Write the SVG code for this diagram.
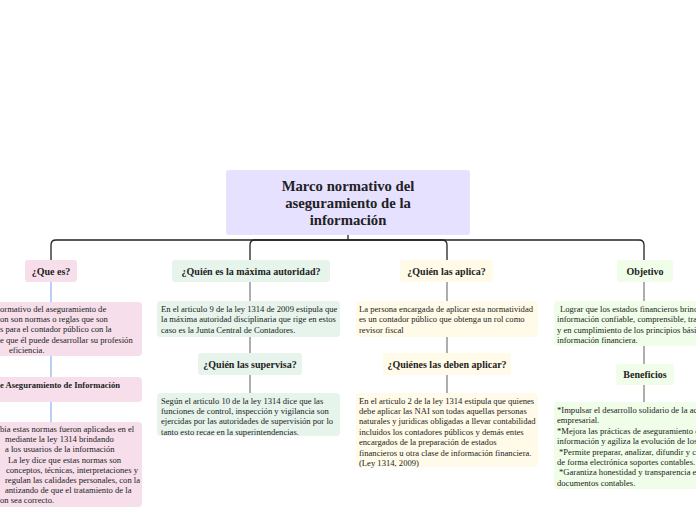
<svg xmlns="http://www.w3.org/2000/svg" width="696" height="520" viewBox="0 0 696 520">
<style>
.bg{fill:#ffffff}
.t{font-family:"Liberation Serif","Times New Roman",serif;font-size:8.6px;fill:#222}
.tb{font-family:"Liberation Serif","Times New Roman",serif;font-size:8.6px;font-weight:bold;fill:#222}
.h{font-family:"Liberation Serif","Times New Roman",serif;font-size:10px;font-weight:bold;fill:#222;text-anchor:middle}
.root{font-family:"Liberation Serif","Times New Roman",serif;font-size:14.7px;font-weight:bold;fill:#222;text-anchor:middle}
.main{fill:none;stroke:#222;stroke-width:1.3}
.sub{fill:none;stroke:#9a9a9a;stroke-width:1.6}
.blue{fill:none;stroke:#a8c4f4;stroke-width:1.6}
.pink{fill:#f6dfea}
.green{fill:#e6f4ec}
.cream{fill:#fffbe8}
.lgreen{fill:#f0fde8}
</style>
<rect class="bg" x="0" y="0" width="696" height="520"/>
<g id="connectors">
<path class="main" d="M348,235 V240"/>
<path class="main" d="M348,240 H56 Q51,240 51,245 V260"/>
<path class="main" d="M348,240 H255 Q250,240 250,245 V260"/>
<path class="main" d="M348,240 H442 Q447,240 447,245 V260"/>
<path class="main" d="M348,240 H639 Q644,240 644,245 V260"/>
<path class="blue" d="M51,282 V302 M51,356 V377 M51,402 V422"/>
<path class="sub" d="M250,282 V301 M250,337 V353 M250,375 V393"/>
<path class="sub" d="M447,282 V301 M447,337 V353 M447,375 V393"/>
<path class="sub" d="M644,282 V301 M644,346 V364 M644,385 V402"/>
</g>
<g id="root">
<rect x="226" y="170" width="244" height="65" rx="3" fill="#e5e1ff"/>
<text class="root" x="348" y="191">Marco normativo del</text>
<text class="root" x="348" y="208">aseguramiento de la</text>
<text class="root" x="348" y="225">información</text>
</g>
<g id="que-es">
<rect class="pink" x="25" y="260" width="52" height="22" rx="3"/>
<text class="h" x="51" y="274.5">¿Que es?</text>
</g>
<g id="que-es-def">
<rect class="pink" x="-60" y="302" width="202" height="54" rx="4"/>
<text class="t" x="0" y="311.5">ormativo del aseguramiento de</text>
<text class="t" x="0" y="322">on son normas o reglas que son</text>
<text class="t" x="0" y="332.4">s para el contador público con la</text>
<text class="t" x="0" y="342.8">e que él puede desarrollar su profesión</text>
<text class="t" x="9" y="353.2">eficiencia.</text>
</g>
<g id="aseguramiento">
<rect class="pink" x="-60" y="377" width="202" height="25" rx="4"/>
<text class="tb" x="0" y="388">e Aseguramiento de Información</text>
</g>
<g id="ley-1314">
<rect class="pink" x="-60" y="422" width="202" height="85" rx="4"/>
<text class="t" x="0" y="432">bia estas normas fueron aplicadas en el</text>
<text class="t" x="5" y="442.2">mediante la ley 1314 brindando</text>
<text class="t" x="5" y="452.4">a los usuarios de la información</text>
<text class="t" x="8" y="462.6">La ley dice que estas normas son</text>
<text class="t" x="6" y="472.8">conceptos, técnicas, interpretaciones y</text>
<text class="t" x="5" y="483">regulan las calidades personales, con la</text>
<text class="t" x="5" y="493.2">antizando de que el tratamiento de la</text>
<text class="t" x="0" y="503.4">on sea correcto.</text>
</g>
<g id="maxima-autoridad">
<rect class="green" x="172" y="260" width="158" height="22" rx="3"/>
<text class="h" x="251" y="274.5">¿Quién es la máxima autoridad?</text>
</g>
<g id="junta-central">
<rect class="green" x="157" y="301" width="183" height="36" rx="4"/>
<text class="t" x="161" y="312">En el articulo 9 de la ley 1314 de 2009 estipula que</text>
<text class="t" x="161" y="322.4">la máxima autoridad disciplinaria que rige en estos</text>
<text class="t" x="161" y="332.8">caso es la Junta Central de Contadores.</text>
</g>
<g id="supervisa">
<rect class="green" x="198" y="353" width="104" height="22" rx="3"/>
<text class="h" x="250" y="367.5">¿Quién las supervisa?</text>
</g>
<g id="superintendencias">
<rect class="green" x="157" y="393" width="183" height="43" rx="4"/>
<text class="t" x="161" y="403.5">Según el articulo 10 de la ley 1314 dice que las</text>
<text class="t" x="161" y="413.9">funciones de control, inspección y vigilancia son</text>
<text class="t" x="161" y="424.3">ejercidas por las autoridades de supervisión por lo</text>
<text class="t" x="161" y="434.7">tanto esto recae en la superintendencias.</text>
</g>
<g id="aplica">
<rect class="cream" x="400" y="260" width="93" height="22" rx="3"/>
<text class="h" x="446.5" y="274.5">¿Quién las aplica?</text>
</g>
<g id="revisor-fiscal">
<rect class="cream" x="356" y="301" width="182" height="36" rx="4"/>
<text class="t" x="359" y="312">La persona encargada de aplicar esta normatividad</text>
<text class="t" x="359" y="322.4">es un contador público que obtenga un rol como</text>
<text class="t" x="359" y="332.8">revisor fiscal</text>
</g>
<g id="deben-aplicar">
<rect class="cream" x="383" y="353" width="128" height="22" rx="3"/>
<text class="h" x="447" y="367.5">¿Quiénes las deben aplicar?</text>
</g>
<g id="articulo-2">
<rect class="cream" x="356" y="393" width="182" height="74" rx="4"/>
<text class="t" x="359" y="403.5">En el articulo 2 de la ley 1314 estipula que quienes</text>
<text class="t" x="359" y="413.9">debe aplicar las NAI son todas aquellas personas</text>
<text class="t" x="359" y="424.3">naturales y juridicas obligadas a llevar contabilidad</text>
<text class="t" x="359" y="434.7">incluidos los contadores públicos y demás entes</text>
<text class="t" x="359" y="445.1">encargados de la preparación de estados</text>
<text class="t" x="359" y="455.5">financieros u otra clase de información financiera.</text>
<text class="t" x="359" y="465.9">(Ley 1314, 2009)</text>
</g>
<g id="objetivo">
<rect class="lgreen" x="617" y="260" width="56" height="22" rx="3"/>
<text class="h" x="645" y="274.5">Objetivo</text>
</g>
<g id="objetivo-def">
<rect class="lgreen" x="554" y="301" width="160" height="45" rx="4"/>
<text class="t" x="560" y="312">Lograr que los estados financieros brind</text>
<text class="t" x="557" y="322.4">información confiable, comprensible, tra</text>
<text class="t" x="557" y="332.8">y en cumplimiento de los principios bási</text>
<text class="t" x="557" y="343.2">información financiera.</text>
</g>
<g id="beneficios">
<rect class="lgreen" x="616" y="364" width="58" height="21" rx="3"/>
<text class="h" x="645" y="378">Beneficios</text>
</g>
<g id="beneficios-list">
<rect class="lgreen" x="554" y="402" width="160" height="87" rx="4"/>
<text class="t" x="557" y="413">*Impulsar el desarrollo solidario de la ac</text>
<text class="t" x="557" y="423.4">empresarial.</text>
<text class="t" x="557" y="433.8">*Mejora las prácticas de aseguramiento d</text>
<text class="t" x="557" y="444.2">información y agiliza la evolución de los</text>
<text class="t" x="559" y="454.6">*Permite preparar, analizar, difundir y c</text>
<text class="t" x="557" y="465">de forma electrónica soportes contables.</text>
<text class="t" x="559" y="475.4">*Garantiza honestidad y transparencia e</text>
<text class="t" x="557" y="485.8">documentos contables.</text>
</g>
</svg>
